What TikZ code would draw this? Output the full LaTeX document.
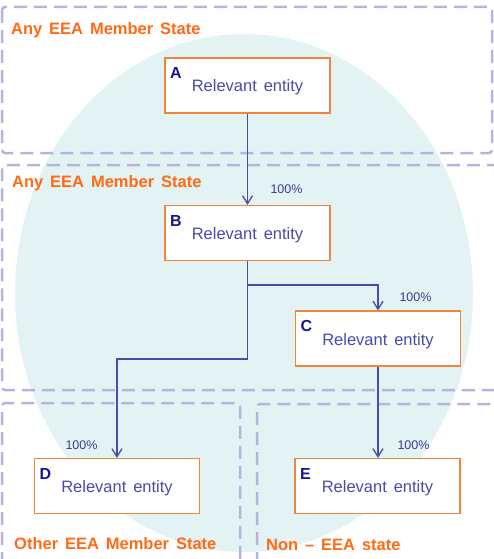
\documentclass[tikz,border=0pt]{standalone}
\usepackage{fontspec}
\setmainfont[WordSpace=1.5]{Liberation Sans}
\usetikzlibrary{arrows.meta}

\definecolor{zonefill}{HTML}{E3F2F3}
\definecolor{zoneline}{HTML}{B4B4DE}
\definecolor{boxline}{HTML}{F4843A}
\definecolor{entitytext}{HTML}{4A4AAE}
\definecolor{lettertext}{HTML}{16168C}
\definecolor{linkline}{HTML}{4B4BAA}
\definecolor{sharetext}{HTML}{3A3A9C}
\definecolor{statetext}{HTML}{FF6A14}

\tikzset{
  zone/.style={draw=zoneline, line width=2.5pt, dash pattern=on 13pt off 7pt, rounded corners=3pt},
  entity/.style={draw=boxline, fill=white, line width=1.2pt, minimum width=165pt, minimum height=55pt,
    inner sep=0pt, text=entitytext, font=\fontsize{16.5}{19}\selectfont, text height=16.5pt, text depth=3.5pt},
  letter/.style={anchor=north west, inner sep=0pt, text=lettertext, font=\bfseries\fontsize{16}{19}\selectfont},
  link/.style={draw=linkline, line width=1.3pt, -{Straight Barb[length=8pt,width=10pt]}},
  share/.style={anchor=base, inner sep=0pt, text=sharetext, font=\fontsize{12.5}{15}\selectfont},
  state/.style={anchor=base west, inner sep=0pt, text=statetext, font=\bfseries\fontsize{16.5}{19}\selectfont}
}

\begin{document}
\begin{tikzpicture}[x=1pt,y=-1pt]
\useasboundingbox (0,0) rectangle (493,559);

% shaded area behind the group
\fill[zonefill] (244,293) ellipse [x radius=229, y radius=259];

% jurisdiction zones
\draw[zone] (2,7) rectangle (492,153);
\draw[zone] (500,165) -- (2,165) -- (2,390) -- (500,390);
\draw[zone] (2,565) -- (2,403) -- (240,403) -- (240,565);
\draw[zone] (257,565) -- (257,404) -- (500,404);

% zone names
\node[state] (s1) at (11,35) {Any EEA Member State};
\node[state] (s2) at (12,187) {Any EEA Member State};
\node[state] (s3) at (14,549) {Other EEA Member State};
\node[state] (s4) at (266,550) {Non – EEA state};

% entities
\node[entity] (A) at (247.5,85.5) {Relevant entity};
\node[entity] (B) at (247.5,233) {Relevant entity};
\node[entity] (C) at (378,338.5) {Relevant entity};
\node[entity] (D) at (117,486) {Relevant entity};
\node[entity] (E) at (377.5,486) {Relevant entity};

\foreach \n in {A,B,C,D,E}
  \node[letter] (l\n) at ([xshift=5.5pt,yshift=-10pt]\n.north west) {\n};

% ownership links
\coordinate (jc) at (247.5,285);
\coordinate (jd) at (247.5,359);
\draw[link] (A.south) -- (B.north);
\draw[link] (B.south) -- (jc) -| (C.north);
\draw[link] (B.south) -- (jd) -| (D.north);
\draw[link] (C.south) -- (E.north -| C.south);

% shares
\node[share] (pB) at (286.5,193) {100\%};
\node[share] (pC) at (415.5,301) {100\%};
\node[share] (pD) at (81.5,449) {100\%};
\node[share] (pE) at (413.5,449) {100\%};
\end{tikzpicture}
\end{document}
